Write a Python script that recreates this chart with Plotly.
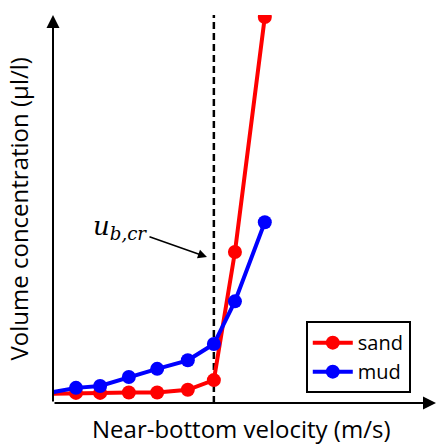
import plotly.graph_objects as go

# data (arbitrary units)
velocity = [-0.3, 0.6, 1.23, 1.98, 2.72, 3.52, 4.2, 4.75, 5.53]
sand = [2.3, 2.6, 2.6, 2.7, 2.7, 3.4, 5.9, 38.9, 99.5]
mud = [2.25, 3.9, 4.4, 6.7, 8.8, 11.0, 15.2, 26.2, 46.6]
u_crit = 4.2
x_max, y_max = 10, 100

fig = go.Figure()
fig.add_trace(go.Scatter(x=velocity, y=sand, name="sand", mode="lines+markers",
                         line=dict(color="#ff0000", width=4),
                         marker=dict(color="#ff0000", size=14)))
fig.add_trace(go.Scatter(x=velocity, y=mud, name="mud", mode="lines+markers",
                         line=dict(color="#0000ff", width=4),
                         marker=dict(color="#0000ff", size=14)))

fig.add_shape(type="line", x0=u_crit, x1=u_crit, y0=0, y1=y_max, xref="x", yref="y",
              line=dict(color="black", width=2.5, dash="7px,4px"), layer="below")

anns = []
# axis arrows
anns.append(dict(x=x_max, y=0, ax=0, ay=0, xref="x", yref="y", axref="x", ayref="y",
                 showarrow=True, arrowhead=2, arrowsize=1.3, arrowwidth=2, arrowcolor="black", text=""))
anns.append(dict(x=0, y=y_max, ax=0, ay=0, xref="x", yref="y", axref="x", ayref="y",
                 showarrow=True, arrowhead=2, arrowsize=1.3, arrowwidth=2, arrowcolor="black", text=""))
# critical velocity label and arrow
anns.append(dict(x=4.02, y=37.6, ax=2.48, ay=43.0, xref="x", yref="y", axref="x", ayref="y",
                 showarrow=True, arrowhead=2, arrowsize=1.2, arrowwidth=1.5, arrowcolor="black", text=""))
anns.append(dict(x=1.75, y=45.3, xref="x", yref="y", showarrow=False,
                 text="<i>u</i><sub><i>b,cr</i></sub>",
                 font=dict(family="DejaVu Serif", size=26, color="black")))
# axis titles
anns.append(dict(x=0.49, y=0, xref="paper", yref="paper", yanchor="top", yshift=-7,
                 showarrow=False, text="Near-bottom velocity (m/s)",
                 font=dict(family="Open Sans", size=24, color="black")))
anns.append(dict(x=0, y=0.5, xref="paper", yref="paper", xanchor="right", xshift=-17,
                 showarrow=False, textangle=-90, text="Volume concentration (µl/l)",
                 font=dict(family="Open Sans", size=24, color="black")))

fig.update_layout(
    width=440, height=444,
    margin=dict(l=53, r=4, t=15, b=41),
    paper_bgcolor="white", plot_bgcolor="white",
    showlegend=True,
    legend=dict(x=0.66, y=0.211, xanchor="left", yanchor="top",
                bordercolor="black", borderwidth=2, bgcolor="white",
                itemwidth=40,
                font=dict(family="Open Sans", size=20, color="black")),
    xaxis=dict(range=[0, x_max], showgrid=False, zeroline=False, showticklabels=False,
               ticks="", showline=False),
    yaxis=dict(range=[0, y_max], showgrid=False, zeroline=False, showticklabels=False,
               ticks="", showline=False),
    annotations=anns,
)

fig.write_html("out.html")
